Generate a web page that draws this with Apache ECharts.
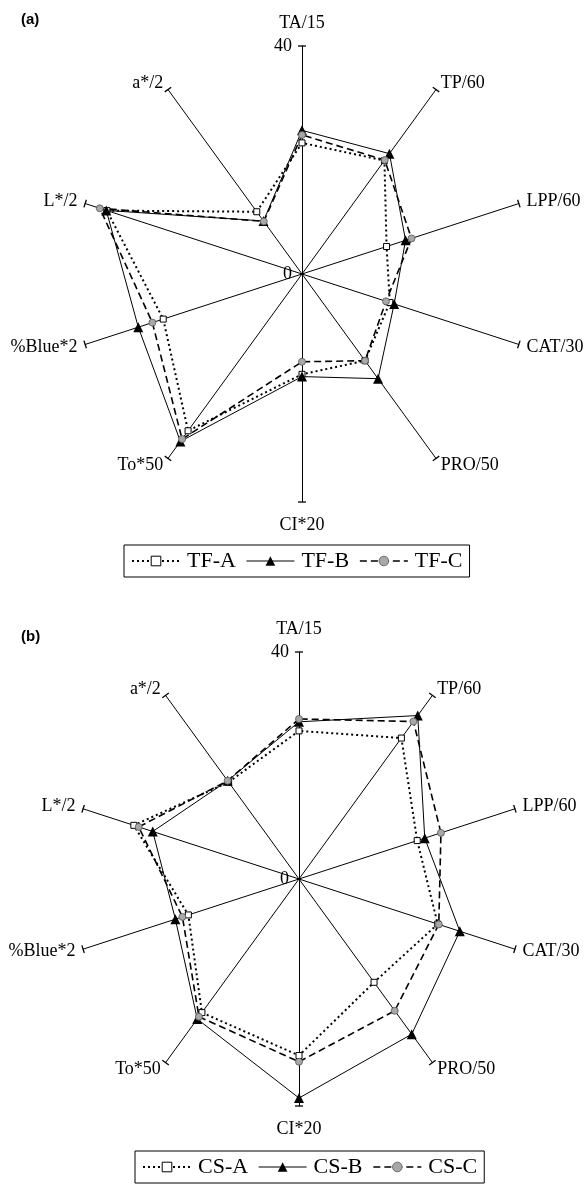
<!DOCTYPE html>
<html>
<head>
<meta charset="utf-8">
<script src="https://cdn.jsdelivr.net/npm/echarts@6/dist/echarts.min.js"></script>
<style>
  html, body { margin: 0; padding: 0; background: #fff; }
  #chart { width: 586px; height: 1188px; }
</style>
</head>
<body>
<div id="chart"></div>
<script>
// Scaled attributes, clockwise from the top axis
const attributes = ['TA/15', 'TP/60', 'LPP/60', 'CAT/30', 'PRO/50', 'CI*20', 'To*50', '%Blue*2', 'L*/2', 'a*/2'];
const scaleMin = 0;
const scaleMax = 40;

// Panel (a): TF samples
const tfNames = ['TF-A', 'TF-B', 'TF-C'];
const tfA = [23.0, 24.6, 15.6, 16.2, 18.8, 17.6, 34.0, 25.6, 36.0, 13.5];
const tfB = [25.2, 26.1, 19.1, 17.0, 22.7, 18.0, 36.3, 30.2, 36.1, 11.5];
const tfC = [24.4, 24.7, 20.2, 15.5, 18.8, 15.4, 35.8, 27.6, 37.3, 11.4];

// Panel (b): CS samples
const csNames = ['CS-A', 'CS-B', 'CS-C'];
const csA = [26.1, 30.7, 21.9, 25.7, 22.5, 31.1, 29.1, 20.5, 30.6, 21.1];
const csB = [27.7, 35.6, 23.3, 29.8, 33.8, 38.6, 30.5, 22.9, 27.1, 21.4];
const csC = [28.2, 34.3, 26.3, 25.9, 28.7, 32.2, 30.0, 21.6, 29.7, 21.4];

const SERIF = 'Liberation Serif, Times New Roman, serif';

// ECharts lays radar indicators out counter-clockwise, so feed them in reverse
// (keeping the first one on top) to get a clockwise reading order.
const drawOrder = attributes.map(function (_, i) { return (attributes.length - i) % attributes.length; });
function reorder(row) { return drawOrder.map(function (i) { return row[i]; }); }

// Marker / line looks: A = dotted + open square, B = solid + triangle, C = dashed + grey circle
const looks = [
  { symbol: 'rect', symbolSize: 6,
    itemStyle: { color: '#fff', borderColor: '#000', borderWidth: 1 },
    lineStyle: { color: '#000', width: 2, type: [2, 3] } },
  { symbol: 'triangle', symbolSize: 10,
    itemStyle: { color: '#000', borderColor: '#000', borderWidth: 0 },
    lineStyle: { color: '#000', width: 1, type: 'solid' } },
  { symbol: 'circle', symbolSize: 7,
    itemStyle: { color: '#a8a8a8', borderColor: '#555', borderWidth: 0.8 },
    lineStyle: { color: '#000', width: 1.6, type: [7, 4] } }
];

function radarFrame(center, radius) {
  return {
    center: center,
    radius: radius,
    startAngle: 90,
    splitNumber: 1,
    shape: 'polygon',
    indicator: reorder(attributes).map(function (name, i) {
      const ind = { name: name, min: scaleMin, max: scaleMax, nameGap: (i % 5 === 0) ? 14 : 8 };
      if (i === 0) {
        ind.axisLabel = { show: true, color: '#000', fontFamily: SERIF, fontSize: 18, margin: 10 };
      }
      return ind;
    }),
    axisName: { color: '#000', fontFamily: SERIF, fontSize: 18 },
    axisNameGap: 8,
    splitLine: { show: false },
    splitArea: { show: false },
    axisTick: { show: false },
    axisLabel: { show: false },
    axisLine: {
      show: true,
      lineStyle: { color: '#000', width: 1 },
      symbol: ['none', 'path://M0,0H8V1.3H0Z'],
      symbolSize: [8, 1.3]
    }
  };
}

// Empty line series give the legend its line + marker icons
function legendKeys(names) {
  return names.map(function (name, k) {
    return Object.assign({ type: 'line', name: name, data: [], xAxisIndex: 0, yAxisIndex: 0, silent: true }, looks[k]);
  });
}

function radarSeries(names, rows, radarIndex) {
  return names.map(function (name, k) {
    return Object.assign({
      type: 'radar', name: name, radarIndex: radarIndex, silent: true,
      emphasis: { disabled: true },
      data: [{ name: name, value: reorder(rows[k]) }]
    }, looks[k]);
  });
}

const legendCommon = {
  orient: 'horizontal',
  itemWidth: 48, itemHeight: 12, itemGap: 10,
  padding: [5, 7],
  borderColor: '#000', borderWidth: 1,
  selectedMode: false,
  textStyle: { fontFamily: SERIF, fontSize: 22, color: '#000', padding: [0, 0, 0, 2] },
  lineStyle: { width: 'inherit' },
  itemStyle: { borderWidth: 'inherit' }
};

const chart = echarts.init(document.getElementById('chart'), null, { renderer: 'canvas' });
chart.setOption({
  animation: false,
  backgroundColor: '#fff',
  title: [
    { text: '(a)', left: 21, top: 12, padding: 0,
      textStyle: { fontFamily: 'Liberation Sans, Arial, sans-serif', fontWeight: 'bold', fontSize: 15, color: '#000' } },
    { text: '(b)', left: 21, top: 629, padding: 0,
      textStyle: { fontFamily: 'Liberation Sans, Arial, sans-serif', fontWeight: 'bold', fontSize: 15, color: '#000' } }
  ],
  grid: { show: false, left: 0, top: 0, width: 1, height: 1 },
  xAxis: { show: false, type: 'value' },
  yAxis: { show: false, type: 'value' },
  radar: [radarFrame([302, 274], 228), radarFrame([299, 879], 227)],
  legend: [
    Object.assign({ data: tfNames, left: 124, top: 545 }, legendCommon),
    Object.assign({ data: csNames, left: 135, top: 1151 }, legendCommon)
  ],
  series: [].concat(
    legendKeys(tfNames),
    legendKeys(csNames),
    radarSeries(tfNames, [tfA, tfB, tfC], 0),
    radarSeries(csNames, [csA, csB, csC], 1)
  )
});
</script>
</body>
</html>
